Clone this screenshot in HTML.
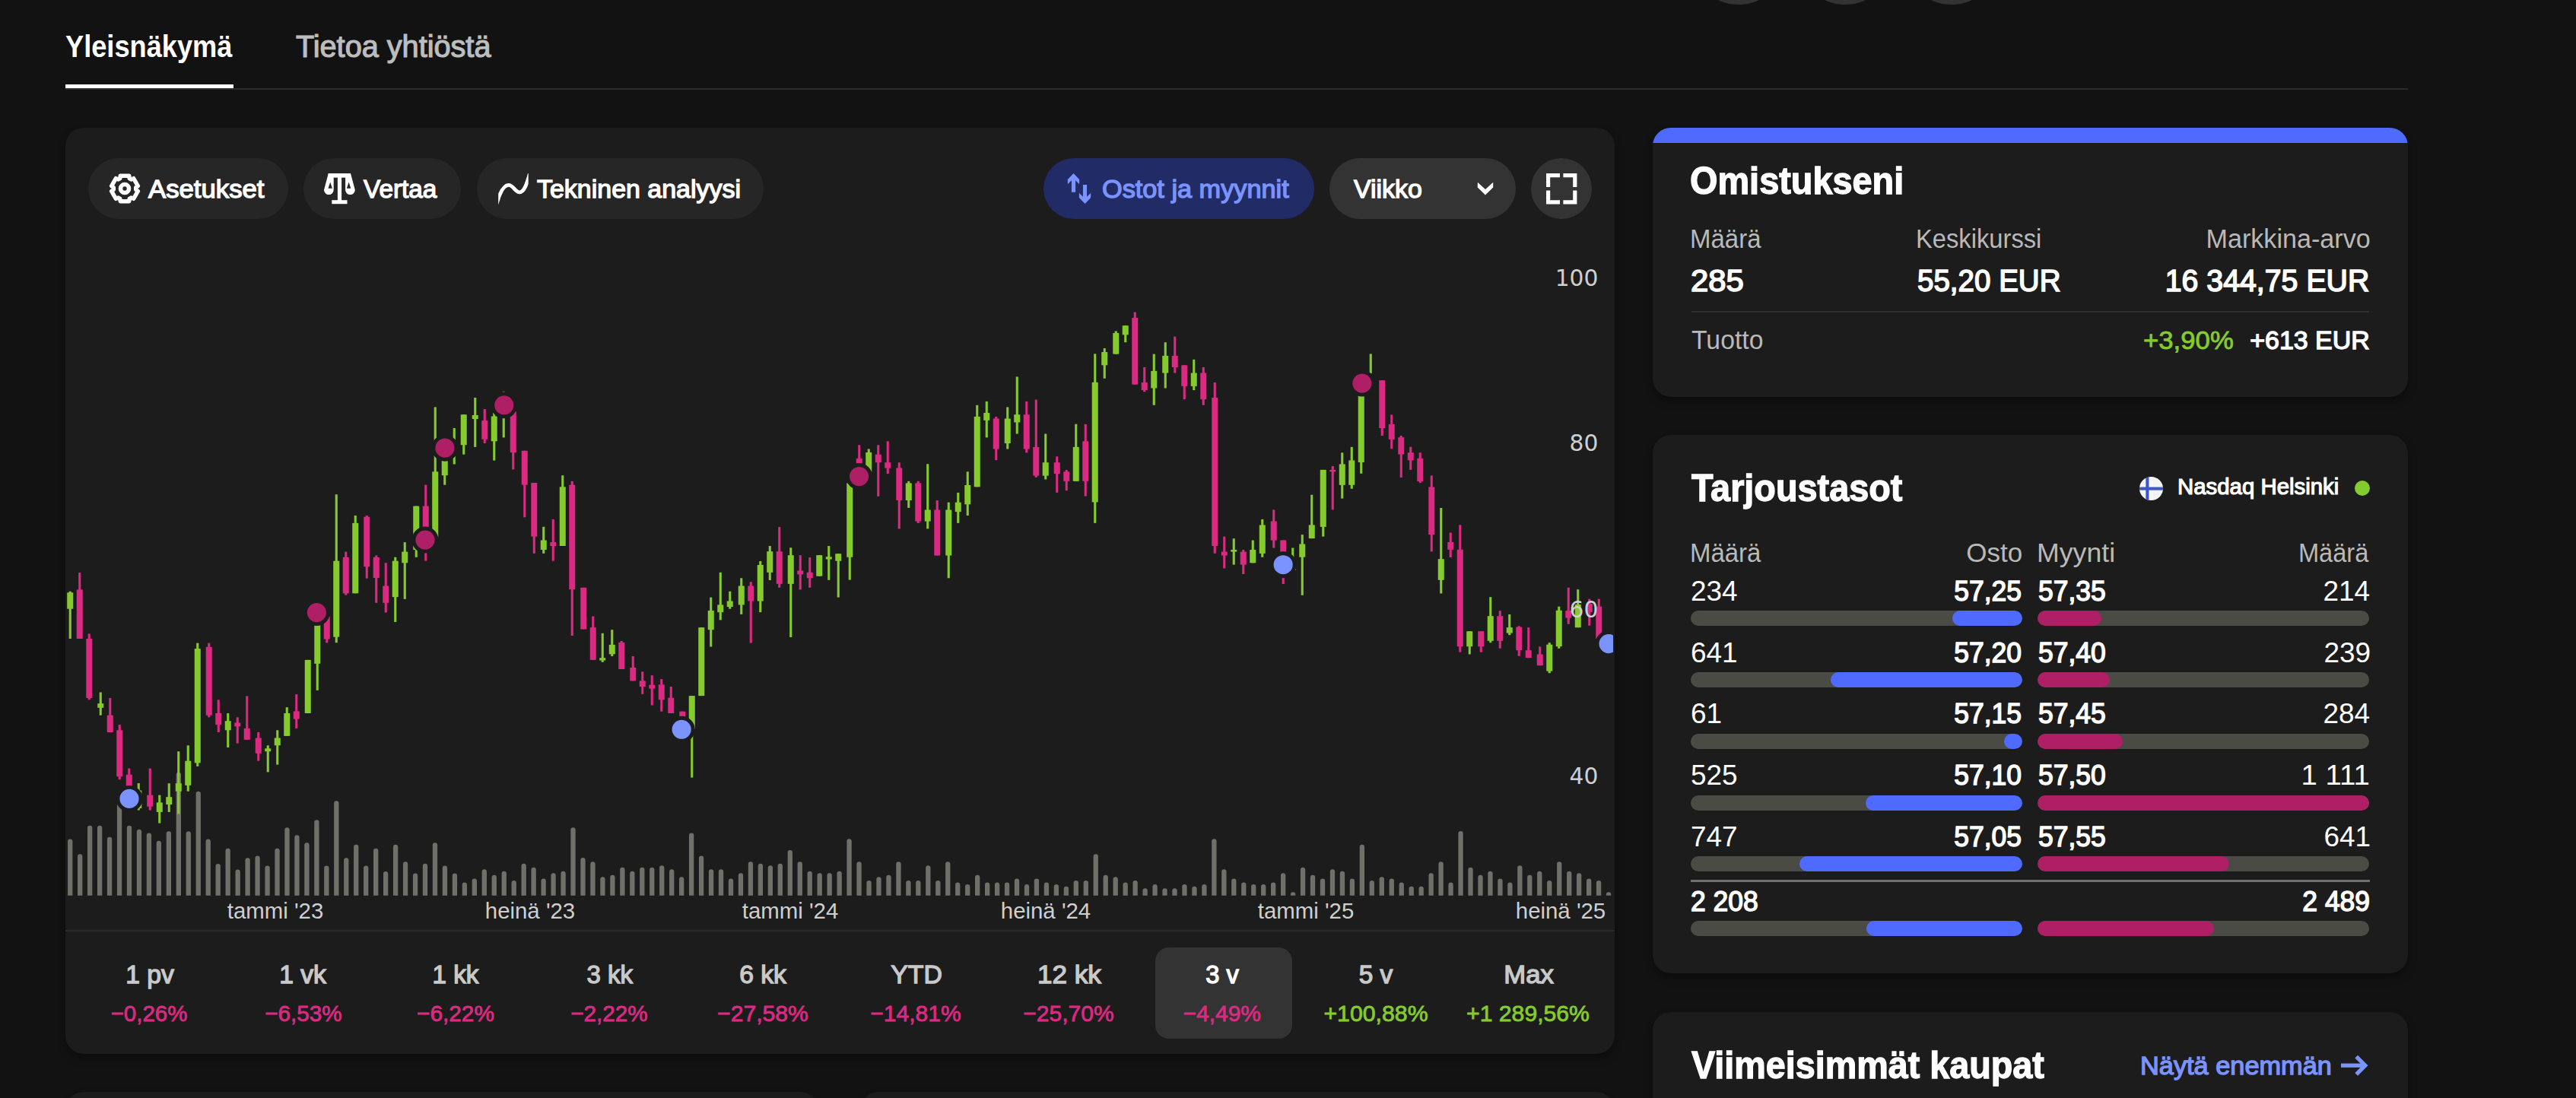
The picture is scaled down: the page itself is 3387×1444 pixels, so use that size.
<!DOCTYPE html>
<html lang="fi"><head><meta charset="utf-8"><title>Yleisnäkymä</title>
<style>
*{box-sizing:border-box;margin:0;padding:0}
html,body{width:3387px;height:1444px;overflow:hidden;background:#121212;font-family:"Liberation Sans",sans-serif}
#root{position:relative;width:3387px;height:1444px;overflow:hidden}
.t{position:absolute;white-space:nowrap;line-height:1;font-kerning:normal}
.card{position:absolute;background:#1c1c1c;border-radius:24px;box-shadow:0 6px 12px rgba(0,0,0,.32)}
.pill{position:absolute;top:208px;height:80px;border-radius:40px;background:#262626}
.abs{position:absolute}
.track{position:absolute;height:20px;border-radius:10px;background:#4b4b46;overflow:hidden}
.fill{position:absolute;top:0;height:20px;border-radius:10px}
svg{overflow:visible}
</style></head><body><div id="root">
<div class="abs" style="left:2222.3px;top:-122px;width:128px;height:128px;border-radius:50%;background:#333"></div>
<div class="abs" style="left:2361.8px;top:-122px;width:128px;height:128px;border-radius:50%;background:#333"></div>
<div class="abs" style="left:2501.5px;top:-122px;width:128px;height:128px;border-radius:50%;background:#333"></div>
<div class="abs" style="left:86px;top:116px;width:3080px;height:1.8px;background:#2c2c2c"></div>
<div class="abs" style="left:86px;top:111.2px;width:221px;height:4.8px;background:#fff"></div>
<div class="card" style="left:86px;top:168px;width:2037px;height:1217.5px"></div>
<div class="card" style="left:2173px;top:168px;width:993px;height:353.5px;overflow:hidden"><div style="height:19.5px;background:#4f6bff"></div></div>
<div class="card" style="left:2173px;top:572px;width:993px;height:708px"></div>
<div class="card" style="left:2173px;top:1331px;width:993px;height:300px"></div>
<div class="card" style="left:86px;top:1436px;width:990px;height:300px"></div>
<div class="card" style="left:1131px;top:1436px;width:992px;height:300px"></div>
<div class="pill" style="left:116px;width:263px"></div>
<div class="pill" style="left:399.3px;width:207px"></div>
<div class="pill" style="left:627px;width:376.5px"></div>
<div class="pill" style="left:1372px;width:355.7px;background:#212b66"></div>
<div class="pill" style="left:1747.8px;width:245.3px;background:#333333"></div>
<div class="pill" style="left:2013px;width:80px;background:#333333"></div>
<svg class="abs" style="left:164px;top:247.7px" width="1" height="1"><path d="M6.21 -13.32 L5.76 -16.74 L-5.76 -16.74 L-6.21 -13.32 L-8.43 -12.04 L-11.61 -13.36 L-17.37 -3.38 L-14.64 -1.28 L-14.64 1.28 L-17.37 3.38 L-11.61 13.36 L-8.43 12.04 L-6.21 13.32 L-5.76 16.74 L5.76 16.74 L6.21 13.32 L8.43 12.04 L11.61 13.36 L17.37 3.38 L14.64 1.28 L14.64 -1.28 L17.37 -3.38 L11.61 -13.36 L8.43 -12.04Z" fill="none" stroke="#fff" stroke-width="5.4" stroke-linejoin="round"/><circle r="5.5" fill="none" stroke="#fff" stroke-width="5.6"/></svg>
<svg class="abs" style="left:425.6px;top:227.8px" width="41" height="41" viewBox="0 0 41 41"><g fill="#fff">
<rect x="5.8" y="0" width="29.2" height="5.6"/><rect x="17.9" y="0" width="5.2" height="36"/><rect x="10.3" y="35.2" width="20.2" height="5"/>
<path fill-rule="evenodd" d="M5.8 0 L12.7 0 L12.7 21.7 A6.35 6.35 0 0 1 0 21.7 Z M8.2 11.6 L5.5 19.7 L10.9 19.7 Z"/>
<path fill-rule="evenodd" d="M35 0 L28.1 0 L28.1 21.7 A6.35 6.35 0 0 0 40.8 21.7 Z M32.6 11.6 L35.3 19.7 L29.9 19.7 Z"/>
</g></svg>
<svg class="abs" style="left:654px;top:228px;overflow:hidden" width="44" height="42" viewBox="0 0 44 42"><defs><clipPath id="tc"><rect x="1.2" y="-5" width="39.5" height="52"/></clipPath></defs><path clip-path="url(#tc)" fill="none" stroke="#fff" stroke-width="4.9" d="M-1 40 C3 26 8 15.4 14.7 15.4 C21 15.4 23.5 24.9 29.2 24.9 C34.5 24.9 38.5 15 42.5 0.5"/></svg>
<svg class="abs" style="left:1400px;top:226px" width="38" height="44" viewBox="0 0 38 44"><g fill="#7b93fe">
<path d="M11.5 2 L19.1 9.9 V16.25 L14.1 11.15 V26.7 H8.9 V11.15 L3.8 16.25 V9.9 Z"/>
<path d="M26.6 42 L34.2 34.1 V27.75 L29.1 32.85 V17.1 H23.9 V32.85 L18.9 27.75 V34.1 Z"/></g></svg>
<svg class="abs" style="left:1940px;top:236px" width="26" height="24" viewBox="0 0 26 24"><path d="M2.8 3.8 L13 13.05 L23.2 3.8 V10.6 L13 20.4 L2.8 10.6 Z" fill="#fff"/></svg>
<svg class="abs" style="left:2032.7px;top:227.8px" width="40.4" height="40.4" viewBox="0 0 40.4 40.4"><g fill="none" stroke="#fff" stroke-width="5.2">
<path d="M2.6 18 V2.6 H18"/><path d="M22.4 2.6 H37.8 V18"/><path d="M37.8 22.4 V37.8 H22.4"/><path d="M18 37.8 H2.6 V22.4"/></g></svg>
<svg class="chart" width="3387" height="1444" viewBox="0 0 3387 1444" style="position:absolute;left:0;top:0">
<defs><clipPath id="cc"><rect x="86" y="300" width="2035" height="900"/></clipPath></defs>
<g clip-path="url(#cc)">
<g fill="#70706a">
<path d="M89.05 1177.8 V1106.53 a3.15 3.15 0 0 1 6.3 0 V1177.8 Z"/>
<path d="M102.02 1177.8 V1126.44 a3.15 3.15 0 0 1 6.3 0 V1177.8 Z"/>
<path d="M114.98 1177.8 V1088.92 a3.15 3.15 0 0 1 6.3 0 V1177.8 Z"/>
<path d="M127.95 1177.8 V1088.92 a3.15 3.15 0 0 1 6.3 0 V1177.8 Z"/>
<path d="M140.92 1177.8 V1104.01 a3.15 3.15 0 0 1 6.3 0 V1177.8 Z"/>
<path d="M153.89 1177.8 V1059.65 a3.15 3.15 0 0 1 6.3 0 V1177.8 Z"/>
<path d="M166.85 1177.8 V1088.92 a3.15 3.15 0 0 1 6.3 0 V1177.8 Z"/>
<path d="M179.82 1177.8 V1093.95 a3.15 3.15 0 0 1 6.3 0 V1177.8 Z"/>
<path d="M192.79 1177.8 V1098.77 a3.15 3.15 0 0 1 6.3 0 V1177.8 Z"/>
<path d="M205.75 1177.8 V1108.83 a3.15 3.15 0 0 1 6.3 0 V1177.8 Z"/>
<path d="M218.72 1177.8 V1096.46 a3.15 3.15 0 0 1 6.3 0 V1177.8 Z"/>
<path d="M231.69 1177.8 V1018.65 a3.15 3.15 0 0 1 6.3 0 V1177.8 Z"/>
<path d="M244.65 1177.8 V1096.46 a3.15 3.15 0 0 1 6.3 0 V1177.8 Z"/>
<path d="M257.62 1177.8 V1043.84 a3.15 3.15 0 0 1 6.3 0 V1177.8 Z"/>
<path d="M270.59 1177.8 V1106.53 a3.15 3.15 0 0 1 6.3 0 V1177.8 Z"/>
<path d="M283.56 1177.8 V1139.02 a3.15 3.15 0 0 1 6.3 0 V1177.8 Z"/>
<path d="M296.52 1177.8 V1118.90 a3.15 3.15 0 0 1 6.3 0 V1177.8 Z"/>
<path d="M309.49 1177.8 V1146.57 a3.15 3.15 0 0 1 6.3 0 V1177.8 Z"/>
<path d="M322.46 1177.8 V1131.47 a3.15 3.15 0 0 1 6.3 0 V1177.8 Z"/>
<path d="M335.42 1177.8 V1128.75 a3.15 3.15 0 0 1 6.3 0 V1177.8 Z"/>
<path d="M348.39 1177.8 V1141.54 a3.15 3.15 0 0 1 6.3 0 V1177.8 Z"/>
<path d="M361.36 1177.8 V1118.90 a3.15 3.15 0 0 1 6.3 0 V1177.8 Z"/>
<path d="M374.32 1177.8 V1091.43 a3.15 3.15 0 0 1 6.3 0 V1177.8 Z"/>
<path d="M387.29 1177.8 V1101.50 a3.15 3.15 0 0 1 6.3 0 V1177.8 Z"/>
<path d="M400.26 1177.8 V1111.35 a3.15 3.15 0 0 1 6.3 0 V1177.8 Z"/>
<path d="M413.23 1177.8 V1081.37 a3.15 3.15 0 0 1 6.3 0 V1177.8 Z"/>
<path d="M426.19 1177.8 V1141.54 a3.15 3.15 0 0 1 6.3 0 V1177.8 Z"/>
<path d="M439.16 1177.8 V1056.42 a3.15 3.15 0 0 1 6.3 0 V1177.8 Z"/>
<path d="M452.13 1177.8 V1131.47 a3.15 3.15 0 0 1 6.3 0 V1177.8 Z"/>
<path d="M465.09 1177.8 V1113.86 a3.15 3.15 0 0 1 6.3 0 V1177.8 Z"/>
<path d="M478.06 1177.8 V1141.54 a3.15 3.15 0 0 1 6.3 0 V1177.8 Z"/>
<path d="M491.03 1177.8 V1118.90 a3.15 3.15 0 0 1 6.3 0 V1177.8 Z"/>
<path d="M503.99 1177.8 V1149.08 a3.15 3.15 0 0 1 6.3 0 V1177.8 Z"/>
<path d="M516.96 1177.8 V1113.86 a3.15 3.15 0 0 1 6.3 0 V1177.8 Z"/>
<path d="M529.93 1177.8 V1136.51 a3.15 3.15 0 0 1 6.3 0 V1177.8 Z"/>
<path d="M542.90 1177.8 V1151.60 a3.15 3.15 0 0 1 6.3 0 V1177.8 Z"/>
<path d="M555.86 1177.8 V1139.02 a3.15 3.15 0 0 1 6.3 0 V1177.8 Z"/>
<path d="M568.83 1177.8 V1111.35 a3.15 3.15 0 0 1 6.3 0 V1177.8 Z"/>
<path d="M581.80 1177.8 V1141.54 a3.15 3.15 0 0 1 6.3 0 V1177.8 Z"/>
<path d="M594.76 1177.8 V1151.60 a3.15 3.15 0 0 1 6.3 0 V1177.8 Z"/>
<path d="M607.73 1177.8 V1163.76 a3.15 3.15 0 0 1 6.3 0 V1177.8 Z"/>
<path d="M620.70 1177.8 V1158.73 a3.15 3.15 0 0 1 6.3 0 V1177.8 Z"/>
<path d="M633.66 1177.8 V1146.36 a3.15 3.15 0 0 1 6.3 0 V1177.8 Z"/>
<path d="M646.63 1177.8 V1153.91 a3.15 3.15 0 0 1 6.3 0 V1177.8 Z"/>
<path d="M659.60 1177.8 V1148.87 a3.15 3.15 0 0 1 6.3 0 V1177.8 Z"/>
<path d="M672.57 1177.8 V1161.24 a3.15 3.15 0 0 1 6.3 0 V1177.8 Z"/>
<path d="M685.53 1177.8 V1138.81 a3.15 3.15 0 0 1 6.3 0 V1177.8 Z"/>
<path d="M698.50 1177.8 V1143.84 a3.15 3.15 0 0 1 6.3 0 V1177.8 Z"/>
<path d="M711.47 1177.8 V1158.73 a3.15 3.15 0 0 1 6.3 0 V1177.8 Z"/>
<path d="M724.43 1177.8 V1151.39 a3.15 3.15 0 0 1 6.3 0 V1177.8 Z"/>
<path d="M737.40 1177.8 V1148.87 a3.15 3.15 0 0 1 6.3 0 V1177.8 Z"/>
<path d="M750.37 1177.8 V1091.43 a3.15 3.15 0 0 1 6.3 0 V1177.8 Z"/>
<path d="M763.33 1177.8 V1131.26 a3.15 3.15 0 0 1 6.3 0 V1177.8 Z"/>
<path d="M776.30 1177.8 V1136.30 a3.15 3.15 0 0 1 6.3 0 V1177.8 Z"/>
<path d="M789.27 1177.8 V1156.42 a3.15 3.15 0 0 1 6.3 0 V1177.8 Z"/>
<path d="M802.24 1177.8 V1153.91 a3.15 3.15 0 0 1 6.3 0 V1177.8 Z"/>
<path d="M815.20 1177.8 V1143.84 a3.15 3.15 0 0 1 6.3 0 V1177.8 Z"/>
<path d="M828.17 1177.8 V1148.87 a3.15 3.15 0 0 1 6.3 0 V1177.8 Z"/>
<path d="M841.14 1177.8 V1143.84 a3.15 3.15 0 0 1 6.3 0 V1177.8 Z"/>
<path d="M854.10 1177.8 V1143.84 a3.15 3.15 0 0 1 6.3 0 V1177.8 Z"/>
<path d="M867.07 1177.8 V1141.33 a3.15 3.15 0 0 1 6.3 0 V1177.8 Z"/>
<path d="M880.04 1177.8 V1146.36 a3.15 3.15 0 0 1 6.3 0 V1177.8 Z"/>
<path d="M893.00 1177.8 V1156.42 a3.15 3.15 0 0 1 6.3 0 V1177.8 Z"/>
<path d="M905.97 1177.8 V1098.77 a3.15 3.15 0 0 1 6.3 0 V1177.8 Z"/>
<path d="M918.94 1177.8 V1128.75 a3.15 3.15 0 0 1 6.3 0 V1177.8 Z"/>
<path d="M931.91 1177.8 V1146.36 a3.15 3.15 0 0 1 6.3 0 V1177.8 Z"/>
<path d="M944.87 1177.8 V1146.36 a3.15 3.15 0 0 1 6.3 0 V1177.8 Z"/>
<path d="M957.84 1177.8 V1158.73 a3.15 3.15 0 0 1 6.3 0 V1177.8 Z"/>
<path d="M970.81 1177.8 V1151.39 a3.15 3.15 0 0 1 6.3 0 V1177.8 Z"/>
<path d="M983.77 1177.8 V1136.30 a3.15 3.15 0 0 1 6.3 0 V1177.8 Z"/>
<path d="M996.74 1177.8 V1138.81 a3.15 3.15 0 0 1 6.3 0 V1177.8 Z"/>
<path d="M1009.71 1177.8 V1141.33 a3.15 3.15 0 0 1 6.3 0 V1177.8 Z"/>
<path d="M1022.67 1177.8 V1138.81 a3.15 3.15 0 0 1 6.3 0 V1177.8 Z"/>
<path d="M1035.64 1177.8 V1121.20 a3.15 3.15 0 0 1 6.3 0 V1177.8 Z"/>
<path d="M1048.61 1177.8 V1136.30 a3.15 3.15 0 0 1 6.3 0 V1177.8 Z"/>
<path d="M1061.58 1177.8 V1148.87 a3.15 3.15 0 0 1 6.3 0 V1177.8 Z"/>
<path d="M1074.54 1177.8 V1151.39 a3.15 3.15 0 0 1 6.3 0 V1177.8 Z"/>
<path d="M1087.51 1177.8 V1151.39 a3.15 3.15 0 0 1 6.3 0 V1177.8 Z"/>
<path d="M1100.48 1177.8 V1148.87 a3.15 3.15 0 0 1 6.3 0 V1177.8 Z"/>
<path d="M1113.44 1177.8 V1106.32 a3.15 3.15 0 0 1 6.3 0 V1177.8 Z"/>
<path d="M1126.41 1177.8 V1136.30 a3.15 3.15 0 0 1 6.3 0 V1177.8 Z"/>
<path d="M1139.38 1177.8 V1161.24 a3.15 3.15 0 0 1 6.3 0 V1177.8 Z"/>
<path d="M1152.34 1177.8 V1156.42 a3.15 3.15 0 0 1 6.3 0 V1177.8 Z"/>
<path d="M1165.31 1177.8 V1153.91 a3.15 3.15 0 0 1 6.3 0 V1177.8 Z"/>
<path d="M1178.28 1177.8 V1136.30 a3.15 3.15 0 0 1 6.3 0 V1177.8 Z"/>
<path d="M1191.24 1177.8 V1161.24 a3.15 3.15 0 0 1 6.3 0 V1177.8 Z"/>
<path d="M1204.21 1177.8 V1161.24 a3.15 3.15 0 0 1 6.3 0 V1177.8 Z"/>
<path d="M1217.18 1177.8 V1141.33 a3.15 3.15 0 0 1 6.3 0 V1177.8 Z"/>
<path d="M1230.15 1177.8 V1161.24 a3.15 3.15 0 0 1 6.3 0 V1177.8 Z"/>
<path d="M1243.11 1177.8 V1136.30 a3.15 3.15 0 0 1 6.3 0 V1177.8 Z"/>
<path d="M1256.08 1177.8 V1163.76 a3.15 3.15 0 0 1 6.3 0 V1177.8 Z"/>
<path d="M1269.05 1177.8 V1166.27 a3.15 3.15 0 0 1 6.3 0 V1177.8 Z"/>
<path d="M1282.01 1177.8 V1153.91 a3.15 3.15 0 0 1 6.3 0 V1177.8 Z"/>
<path d="M1294.98 1177.8 V1163.76 a3.15 3.15 0 0 1 6.3 0 V1177.8 Z"/>
<path d="M1307.95 1177.8 V1163.76 a3.15 3.15 0 0 1 6.3 0 V1177.8 Z"/>
<path d="M1320.91 1177.8 V1163.76 a3.15 3.15 0 0 1 6.3 0 V1177.8 Z"/>
<path d="M1333.88 1177.8 V1158.73 a3.15 3.15 0 0 1 6.3 0 V1177.8 Z"/>
<path d="M1346.85 1177.8 V1166.27 a3.15 3.15 0 0 1 6.3 0 V1177.8 Z"/>
<path d="M1359.82 1177.8 V1158.73 a3.15 3.15 0 0 1 6.3 0 V1177.8 Z"/>
<path d="M1372.78 1177.8 V1163.76 a3.15 3.15 0 0 1 6.3 0 V1177.8 Z"/>
<path d="M1385.75 1177.8 V1166.27 a3.15 3.15 0 0 1 6.3 0 V1177.8 Z"/>
<path d="M1398.72 1177.8 V1168.79 a3.15 3.15 0 0 1 6.3 0 V1177.8 Z"/>
<path d="M1411.68 1177.8 V1161.24 a3.15 3.15 0 0 1 6.3 0 V1177.8 Z"/>
<path d="M1424.65 1177.8 V1161.24 a3.15 3.15 0 0 1 6.3 0 V1177.8 Z"/>
<path d="M1437.62 1177.8 V1126.44 a3.15 3.15 0 0 1 6.3 0 V1177.8 Z"/>
<path d="M1450.59 1177.8 V1153.91 a3.15 3.15 0 0 1 6.3 0 V1177.8 Z"/>
<path d="M1463.55 1177.8 V1156.42 a3.15 3.15 0 0 1 6.3 0 V1177.8 Z"/>
<path d="M1476.52 1177.8 V1163.76 a3.15 3.15 0 0 1 6.3 0 V1177.8 Z"/>
<path d="M1489.49 1177.8 V1161.24 a3.15 3.15 0 0 1 6.3 0 V1177.8 Z"/>
<path d="M1502.45 1177.8 V1171.31 a3.15 3.15 0 0 1 6.3 0 V1177.8 Z"/>
<path d="M1515.42 1177.8 V1166.27 a3.15 3.15 0 0 1 6.3 0 V1177.8 Z"/>
<path d="M1528.39 1177.8 V1171.31 a3.15 3.15 0 0 1 6.3 0 V1177.8 Z"/>
<path d="M1541.35 1177.8 V1171.31 a3.15 3.15 0 0 1 6.3 0 V1177.8 Z"/>
<path d="M1554.32 1177.8 V1166.27 a3.15 3.15 0 0 1 6.3 0 V1177.8 Z"/>
<path d="M1567.29 1177.8 V1168.79 a3.15 3.15 0 0 1 6.3 0 V1177.8 Z"/>
<path d="M1580.26 1177.8 V1166.27 a3.15 3.15 0 0 1 6.3 0 V1177.8 Z"/>
<path d="M1593.22 1177.8 V1106.32 a3.15 3.15 0 0 1 6.3 0 V1177.8 Z"/>
<path d="M1606.19 1177.8 V1146.36 a3.15 3.15 0 0 1 6.3 0 V1177.8 Z"/>
<path d="M1619.16 1177.8 V1158.73 a3.15 3.15 0 0 1 6.3 0 V1177.8 Z"/>
<path d="M1632.12 1177.8 V1163.76 a3.15 3.15 0 0 1 6.3 0 V1177.8 Z"/>
<path d="M1645.09 1177.8 V1166.27 a3.15 3.15 0 0 1 6.3 0 V1177.8 Z"/>
<path d="M1658.06 1177.8 V1166.27 a3.15 3.15 0 0 1 6.3 0 V1177.8 Z"/>
<path d="M1671.02 1177.8 V1163.76 a3.15 3.15 0 0 1 6.3 0 V1177.8 Z"/>
<path d="M1683.99 1177.8 V1151.39 a3.15 3.15 0 0 1 6.3 0 V1177.8 Z"/>
<path d="M1696.96 1177.8 V1176.34 a3.15 3.15 0 0 1 6.3 0 V1177.8 Z"/>
<path d="M1709.92 1177.8 V1143.84 a3.15 3.15 0 0 1 6.3 0 V1177.8 Z"/>
<path d="M1722.89 1177.8 V1153.91 a3.15 3.15 0 0 1 6.3 0 V1177.8 Z"/>
<path d="M1735.86 1177.8 V1158.73 a3.15 3.15 0 0 1 6.3 0 V1177.8 Z"/>
<path d="M1748.83 1177.8 V1146.36 a3.15 3.15 0 0 1 6.3 0 V1177.8 Z"/>
<path d="M1761.79 1177.8 V1148.87 a3.15 3.15 0 0 1 6.3 0 V1177.8 Z"/>
<path d="M1774.76 1177.8 V1158.73 a3.15 3.15 0 0 1 6.3 0 V1177.8 Z"/>
<path d="M1787.73 1177.8 V1113.86 a3.15 3.15 0 0 1 6.3 0 V1177.8 Z"/>
<path d="M1800.69 1177.8 V1161.24 a3.15 3.15 0 0 1 6.3 0 V1177.8 Z"/>
<path d="M1813.66 1177.8 V1156.42 a3.15 3.15 0 0 1 6.3 0 V1177.8 Z"/>
<path d="M1826.63 1177.8 V1158.73 a3.15 3.15 0 0 1 6.3 0 V1177.8 Z"/>
<path d="M1839.60 1177.8 V1163.76 a3.15 3.15 0 0 1 6.3 0 V1177.8 Z"/>
<path d="M1852.56 1177.8 V1168.79 a3.15 3.15 0 0 1 6.3 0 V1177.8 Z"/>
<path d="M1865.53 1177.8 V1168.79 a3.15 3.15 0 0 1 6.3 0 V1177.8 Z"/>
<path d="M1878.50 1177.8 V1151.39 a3.15 3.15 0 0 1 6.3 0 V1177.8 Z"/>
<path d="M1891.46 1177.8 V1136.30 a3.15 3.15 0 0 1 6.3 0 V1177.8 Z"/>
<path d="M1904.43 1177.8 V1163.76 a3.15 3.15 0 0 1 6.3 0 V1177.8 Z"/>
<path d="M1917.40 1177.8 V1096.25 a3.15 3.15 0 0 1 6.3 0 V1177.8 Z"/>
<path d="M1930.36 1177.8 V1143.84 a3.15 3.15 0 0 1 6.3 0 V1177.8 Z"/>
<path d="M1943.33 1177.8 V1153.91 a3.15 3.15 0 0 1 6.3 0 V1177.8 Z"/>
<path d="M1956.30 1177.8 V1148.87 a3.15 3.15 0 0 1 6.3 0 V1177.8 Z"/>
<path d="M1969.27 1177.8 V1158.73 a3.15 3.15 0 0 1 6.3 0 V1177.8 Z"/>
<path d="M1982.23 1177.8 V1163.76 a3.15 3.15 0 0 1 6.3 0 V1177.8 Z"/>
<path d="M1995.20 1177.8 V1141.33 a3.15 3.15 0 0 1 6.3 0 V1177.8 Z"/>
<path d="M2008.17 1177.8 V1153.91 a3.15 3.15 0 0 1 6.3 0 V1177.8 Z"/>
<path d="M2021.13 1177.8 V1148.87 a3.15 3.15 0 0 1 6.3 0 V1177.8 Z"/>
<path d="M2034.10 1177.8 V1161.24 a3.15 3.15 0 0 1 6.3 0 V1177.8 Z"/>
<path d="M2047.07 1177.8 V1136.30 a3.15 3.15 0 0 1 6.3 0 V1177.8 Z"/>
<path d="M2060.03 1177.8 V1148.87 a3.15 3.15 0 0 1 6.3 0 V1177.8 Z"/>
<path d="M2073.00 1177.8 V1151.39 a3.15 3.15 0 0 1 6.3 0 V1177.8 Z"/>
<path d="M2085.97 1177.8 V1158.73 a3.15 3.15 0 0 1 6.3 0 V1177.8 Z"/>
<path d="M2098.93 1177.8 V1161.24 a3.15 3.15 0 0 1 6.3 0 V1177.8 Z"/>
<path d="M2111.90 1177.8 V1176.34 a3.15 3.15 0 0 1 6.3 0 V1177.8 Z"/>
</g>
<rect x="90.70" y="777.7" width="3.1" height="62.3" fill="#86cb2d"/>
<rect x="88.25" y="779.3" width="8" height="21.4" fill="#86cb2d"/>
<rect x="103.20" y="753.1" width="3.1" height="86.9" fill="#da2a82"/>
<rect x="100.75" y="775.4" width="8" height="64.6" fill="#da2a82"/>
<rect x="115.70" y="833.4" width="3.1" height="86.9" fill="#da2a82"/>
<rect x="113.25" y="840.0" width="8" height="78.0" fill="#da2a82"/>
<rect x="130.70" y="910.5" width="3.1" height="30.2" fill="#86cb2d"/>
<rect x="128.25" y="925.2" width="8" height="5.6" fill="#86cb2d"/>
<rect x="143.20" y="918.0" width="3.1" height="45.0" fill="#da2a82"/>
<rect x="140.75" y="940.7" width="8" height="22.3" fill="#da2a82"/>
<rect x="155.70" y="953.1" width="3.1" height="72.1" fill="#da2a82"/>
<rect x="153.25" y="960.3" width="8" height="61.0" fill="#da2a82"/>
<rect x="168.20" y="1010.5" width="3.1" height="37.5" fill="#da2a82"/>
<rect x="165.75" y="1018.7" width="8" height="29.3" fill="#da2a82"/>
<rect x="180.70" y="1030.0" width="3.1" height="35.5" fill="#86cb2d"/>
<rect x="178.25" y="1039.5" width="8" height="23.5" fill="#86cb2d"/>
<rect x="195.70" y="1010.5" width="3.1" height="55.1" fill="#da2a82"/>
<rect x="193.25" y="1045.6" width="8" height="15.1" fill="#da2a82"/>
<rect x="208.20" y="1045.6" width="3.1" height="37.0" fill="#86cb2d"/>
<rect x="205.75" y="1055.4" width="8" height="12.5" fill="#86cb2d"/>
<rect x="220.70" y="1030.2" width="3.1" height="37.7" fill="#86cb2d"/>
<rect x="218.25" y="1048.2" width="8" height="9.8" fill="#86cb2d"/>
<rect x="233.20" y="988.2" width="3.1" height="82.3" fill="#86cb2d"/>
<rect x="230.75" y="1030.2" width="8" height="10.5" fill="#86cb2d"/>
<rect x="245.70" y="980.3" width="3.1" height="60.4" fill="#86cb2d"/>
<rect x="243.25" y="1000.7" width="8" height="32.1" fill="#86cb2d"/>
<rect x="258.20" y="845.6" width="3.1" height="162.3" fill="#86cb2d"/>
<rect x="255.75" y="853.1" width="8" height="150.2" fill="#86cb2d"/>
<rect x="273.20" y="845.6" width="3.1" height="97.7" fill="#da2a82"/>
<rect x="270.75" y="850.8" width="8" height="89.9" fill="#da2a82"/>
<rect x="285.70" y="920.3" width="3.1" height="42.7" fill="#da2a82"/>
<rect x="283.25" y="938.0" width="8" height="15.1" fill="#da2a82"/>
<rect x="298.20" y="938.0" width="3.1" height="45.0" fill="#86cb2d"/>
<rect x="295.75" y="948.2" width="8" height="12.1" fill="#86cb2d"/>
<rect x="310.70" y="943.3" width="3.1" height="34.4" fill="#da2a82"/>
<rect x="308.25" y="950.5" width="8" height="4.9" fill="#da2a82"/>
<rect x="323.20" y="915.4" width="3.1" height="57.4" fill="#da2a82"/>
<rect x="320.75" y="958.0" width="8" height="14.8" fill="#da2a82"/>
<rect x="338.20" y="963.0" width="3.1" height="37.7" fill="#da2a82"/>
<rect x="335.75" y="970.5" width="8" height="20.3" fill="#da2a82"/>
<rect x="350.70" y="980.3" width="3.1" height="35.1" fill="#86cb2d"/>
<rect x="348.25" y="984.3" width="8" height="3.9" fill="#86cb2d"/>
<rect x="363.20" y="960.3" width="3.1" height="45.3" fill="#86cb2d"/>
<rect x="360.75" y="970.5" width="8" height="9.8" fill="#86cb2d"/>
<rect x="375.70" y="930.2" width="3.1" height="37.7" fill="#86cb2d"/>
<rect x="373.25" y="938.0" width="8" height="29.9" fill="#86cb2d"/>
<rect x="388.20" y="913.1" width="3.1" height="44.9" fill="#da2a82"/>
<rect x="385.75" y="935.4" width="8" height="10.2" fill="#da2a82"/>
<rect x="403.20" y="867.9" width="3.1" height="70.1" fill="#86cb2d"/>
<rect x="400.75" y="867.9" width="8" height="70.1" fill="#86cb2d"/>
<rect x="415.70" y="805.6" width="3.1" height="102.3" fill="#86cb2d"/>
<rect x="413.25" y="805.6" width="8" height="67.2" fill="#86cb2d"/>
<rect x="428.20" y="805.0" width="3.1" height="40.4" fill="#da2a82"/>
<rect x="425.75" y="811.0" width="8" height="29.5" fill="#da2a82"/>
<rect x="440.70" y="650.2" width="3.1" height="195.0" fill="#86cb2d"/>
<rect x="438.25" y="737.7" width="8" height="100.0" fill="#86cb2d"/>
<rect x="453.20" y="725.6" width="3.1" height="57.0" fill="#da2a82"/>
<rect x="450.75" y="732.8" width="8" height="47.5" fill="#da2a82"/>
<rect x="465.70" y="678.0" width="3.1" height="102.3" fill="#86cb2d"/>
<rect x="463.25" y="687.9" width="8" height="92.4" fill="#86cb2d"/>
<rect x="480.70" y="678.0" width="3.1" height="82.7" fill="#da2a82"/>
<rect x="478.25" y="679.7" width="8" height="65.5" fill="#da2a82"/>
<rect x="493.20" y="730.5" width="3.1" height="62.3" fill="#da2a82"/>
<rect x="490.75" y="732.8" width="8" height="27.2" fill="#da2a82"/>
<rect x="505.70" y="740.3" width="3.1" height="65.3" fill="#da2a82"/>
<rect x="503.25" y="770.5" width="8" height="22.3" fill="#da2a82"/>
<rect x="518.20" y="732.8" width="3.1" height="85.2" fill="#86cb2d"/>
<rect x="515.75" y="737.7" width="8" height="47.5" fill="#86cb2d"/>
<rect x="530.70" y="713.1" width="3.1" height="74.8" fill="#86cb2d"/>
<rect x="528.25" y="725.6" width="8" height="14.7" fill="#86cb2d"/>
<rect x="545.70" y="665.6" width="3.1" height="67.2" fill="#86cb2d"/>
<rect x="543.25" y="665.6" width="8" height="57.4" fill="#86cb2d"/>
<rect x="558.20" y="637.7" width="3.1" height="100.0" fill="#da2a82"/>
<rect x="555.75" y="665.6" width="8" height="44.2" fill="#da2a82"/>
<rect x="570.70" y="535.4" width="3.1" height="171.2" fill="#86cb2d"/>
<rect x="568.25" y="620.3" width="8" height="86.3" fill="#86cb2d"/>
<rect x="583.20" y="580.0" width="3.1" height="57.7" fill="#86cb2d"/>
<rect x="580.75" y="588.5" width="8" height="36.7" fill="#86cb2d"/>
<rect x="595.70" y="563.0" width="3.1" height="47.5" fill="#86cb2d"/>
<rect x="608.20" y="545.2" width="3.1" height="52.5" fill="#86cb2d"/>
<rect x="605.75" y="545.2" width="8" height="40.0" fill="#86cb2d"/>
<rect x="623.20" y="523.0" width="3.1" height="64.9" fill="#86cb2d"/>
<rect x="620.75" y="546.0" width="8" height="5.0" fill="#86cb2d"/>
<rect x="635.70" y="538.0" width="3.1" height="45.0" fill="#da2a82"/>
<rect x="633.25" y="553.1" width="8" height="24.6" fill="#da2a82"/>
<rect x="648.20" y="542.6" width="3.1" height="63.0" fill="#86cb2d"/>
<rect x="645.75" y="547.5" width="8" height="32.8" fill="#86cb2d"/>
<rect x="660.70" y="514.8" width="3.1" height="60.6" fill="#86cb2d"/>
<rect x="658.25" y="528.0" width="8" height="8.0" fill="#86cb2d"/>
<rect x="673.20" y="541.0" width="3.1" height="76.4" fill="#da2a82"/>
<rect x="670.75" y="541.0" width="8" height="54.0" fill="#da2a82"/>
<rect x="688.20" y="592.8" width="3.1" height="87.5" fill="#da2a82"/>
<rect x="685.75" y="592.8" width="8" height="44.9" fill="#da2a82"/>
<rect x="700.70" y="635.0" width="3.1" height="92.9" fill="#da2a82"/>
<rect x="698.25" y="635.0" width="8" height="70.6" fill="#da2a82"/>
<rect x="713.20" y="692.8" width="3.1" height="35.1" fill="#86cb2d"/>
<rect x="710.75" y="710.5" width="8" height="12.5" fill="#86cb2d"/>
<rect x="725.70" y="683.0" width="3.1" height="54.7" fill="#da2a82"/>
<rect x="723.25" y="713.1" width="8" height="4.9" fill="#da2a82"/>
<rect x="738.20" y="625.2" width="3.1" height="92.8" fill="#86cb2d"/>
<rect x="735.75" y="640.3" width="8" height="77.7" fill="#86cb2d"/>
<rect x="750.70" y="632.8" width="3.1" height="203.2" fill="#da2a82"/>
<rect x="748.25" y="637.7" width="8" height="137.5" fill="#da2a82"/>
<rect x="765.70" y="772.8" width="3.1" height="54.7" fill="#da2a82"/>
<rect x="763.25" y="772.8" width="8" height="54.7" fill="#da2a82"/>
<rect x="778.20" y="810.5" width="3.1" height="57.4" fill="#da2a82"/>
<rect x="775.75" y="825.2" width="8" height="42.7" fill="#da2a82"/>
<rect x="790.70" y="832.8" width="3.1" height="38.0" fill="#86cb2d"/>
<rect x="788.25" y="865.2" width="8" height="3.3" fill="#86cb2d"/>
<rect x="803.20" y="828.2" width="3.1" height="34.8" fill="#86cb2d"/>
<rect x="800.75" y="847.9" width="8" height="12.4" fill="#86cb2d"/>
<rect x="815.70" y="843.0" width="3.1" height="37.0" fill="#da2a82"/>
<rect x="813.25" y="844.9" width="8" height="35.1" fill="#da2a82"/>
<rect x="830.70" y="863.0" width="3.1" height="32.4" fill="#da2a82"/>
<rect x="828.25" y="878.0" width="8" height="17.4" fill="#da2a82"/>
<rect x="843.20" y="883.3" width="3.1" height="29.5" fill="#da2a82"/>
<rect x="840.75" y="895.4" width="8" height="7.6" fill="#da2a82"/>
<rect x="855.70" y="888.2" width="3.1" height="39.3" fill="#da2a82"/>
<rect x="853.25" y="900.7" width="8" height="4.9" fill="#da2a82"/>
<rect x="868.20" y="893.1" width="3.1" height="42.6" fill="#da2a82"/>
<rect x="865.75" y="900.3" width="8" height="20.0" fill="#da2a82"/>
<rect x="880.70" y="903.0" width="3.1" height="35.0" fill="#da2a82"/>
<rect x="878.25" y="917.7" width="8" height="20.3" fill="#da2a82"/>
<rect x="895.70" y="935.7" width="3.1" height="23.6" fill="#da2a82"/>
<rect x="893.25" y="935.7" width="8" height="23.6" fill="#da2a82"/>
<rect x="908.20" y="915.1" width="3.1" height="107.5" fill="#86cb2d"/>
<rect x="905.75" y="915.1" width="8" height="43.6" fill="#86cb2d"/>
<rect x="920.70" y="825.2" width="3.1" height="89.9" fill="#86cb2d"/>
<rect x="918.25" y="825.2" width="8" height="89.9" fill="#86cb2d"/>
<rect x="933.20" y="785.6" width="3.1" height="64.9" fill="#86cb2d"/>
<rect x="930.75" y="803.0" width="8" height="25.2" fill="#86cb2d"/>
<rect x="945.70" y="752.8" width="3.1" height="62.6" fill="#86cb2d"/>
<rect x="943.25" y="795.4" width="8" height="9.8" fill="#86cb2d"/>
<rect x="958.20" y="777.7" width="3.1" height="23.0" fill="#86cb2d"/>
<rect x="955.75" y="790.5" width="8" height="7.5" fill="#86cb2d"/>
<rect x="973.20" y="760.3" width="3.1" height="47.6" fill="#86cb2d"/>
<rect x="970.75" y="770.5" width="8" height="24.9" fill="#86cb2d"/>
<rect x="985.70" y="765.2" width="3.1" height="80.4" fill="#da2a82"/>
<rect x="983.25" y="770.5" width="8" height="20.0" fill="#da2a82"/>
<rect x="998.20" y="738.0" width="3.1" height="67.2" fill="#86cb2d"/>
<rect x="995.75" y="743.0" width="8" height="47.5" fill="#86cb2d"/>
<rect x="1010.70" y="718.0" width="3.1" height="45.0" fill="#86cb2d"/>
<rect x="1008.25" y="725.2" width="8" height="27.6" fill="#86cb2d"/>
<rect x="1023.20" y="693.1" width="3.1" height="79.7" fill="#da2a82"/>
<rect x="1020.75" y="725.2" width="8" height="42.7" fill="#da2a82"/>
<rect x="1038.20" y="720.3" width="3.1" height="117.7" fill="#86cb2d"/>
<rect x="1035.75" y="730.2" width="8" height="37.7" fill="#86cb2d"/>
<rect x="1050.70" y="730.2" width="3.1" height="45.2" fill="#da2a82"/>
<rect x="1048.25" y="750.5" width="8" height="4.9" fill="#da2a82"/>
<rect x="1063.20" y="733.1" width="3.1" height="39.7" fill="#da2a82"/>
<rect x="1060.75" y="752.8" width="8" height="7.5" fill="#da2a82"/>
<rect x="1075.70" y="730.2" width="3.1" height="27.5" fill="#86cb2d"/>
<rect x="1073.25" y="730.2" width="8" height="27.5" fill="#86cb2d"/>
<rect x="1088.20" y="718.0" width="3.1" height="44.8" fill="#86cb2d"/>
<rect x="1085.75" y="732.3" width="8" height="3.2" fill="#86cb2d"/>
<rect x="1100.70" y="728.2" width="3.1" height="57.4" fill="#86cb2d"/>
<rect x="1098.25" y="728.2" width="8" height="9.5" fill="#86cb2d"/>
<rect x="1115.70" y="626.0" width="3.1" height="136.6" fill="#86cb2d"/>
<rect x="1113.25" y="635.4" width="8" height="97.4" fill="#86cb2d"/>
<rect x="1128.20" y="585.2" width="3.1" height="41.4" fill="#da2a82"/>
<rect x="1125.75" y="603.0" width="8" height="23.6" fill="#da2a82"/>
<rect x="1140.70" y="590.5" width="3.1" height="34.5" fill="#86cb2d"/>
<rect x="1138.25" y="595.0" width="8" height="25.7" fill="#86cb2d"/>
<rect x="1153.20" y="585.2" width="3.1" height="67.6" fill="#da2a82"/>
<rect x="1150.75" y="597.7" width="8" height="10.5" fill="#da2a82"/>
<rect x="1165.70" y="580.3" width="3.1" height="42.7" fill="#da2a82"/>
<rect x="1163.25" y="608.2" width="8" height="7.5" fill="#da2a82"/>
<rect x="1180.70" y="608.2" width="3.1" height="87.2" fill="#da2a82"/>
<rect x="1178.25" y="615.4" width="8" height="42.6" fill="#da2a82"/>
<rect x="1193.20" y="632.8" width="3.1" height="35.1" fill="#86cb2d"/>
<rect x="1190.75" y="635.4" width="8" height="22.6" fill="#86cb2d"/>
<rect x="1205.70" y="632.8" width="3.1" height="55.1" fill="#da2a82"/>
<rect x="1203.25" y="635.4" width="8" height="50.2" fill="#da2a82"/>
<rect x="1218.20" y="610.2" width="3.1" height="85.2" fill="#86cb2d"/>
<rect x="1215.75" y="670.5" width="8" height="15.1" fill="#86cb2d"/>
<rect x="1230.70" y="658.0" width="3.1" height="72.5" fill="#da2a82"/>
<rect x="1228.25" y="670.5" width="8" height="60.0" fill="#da2a82"/>
<rect x="1245.70" y="660.7" width="3.1" height="99.6" fill="#86cb2d"/>
<rect x="1243.25" y="670.5" width="8" height="60.0" fill="#86cb2d"/>
<rect x="1258.20" y="647.9" width="3.1" height="40.0" fill="#86cb2d"/>
<rect x="1255.75" y="660.7" width="8" height="12.4" fill="#86cb2d"/>
<rect x="1270.70" y="620.3" width="3.1" height="57.7" fill="#86cb2d"/>
<rect x="1268.25" y="638.0" width="8" height="25.3" fill="#86cb2d"/>
<rect x="1283.20" y="532.8" width="3.1" height="107.5" fill="#86cb2d"/>
<rect x="1280.75" y="547.9" width="8" height="92.4" fill="#86cb2d"/>
<rect x="1295.70" y="527.9" width="3.1" height="47.5" fill="#86cb2d"/>
<rect x="1293.25" y="543.0" width="8" height="9.8" fill="#86cb2d"/>
<rect x="1308.20" y="547.9" width="3.1" height="57.3" fill="#da2a82"/>
<rect x="1305.75" y="550.5" width="8" height="40.0" fill="#da2a82"/>
<rect x="1323.20" y="535.4" width="3.1" height="55.1" fill="#86cb2d"/>
<rect x="1320.75" y="550.5" width="8" height="32.5" fill="#86cb2d"/>
<rect x="1335.70" y="495.4" width="3.1" height="75.1" fill="#86cb2d"/>
<rect x="1333.25" y="545.2" width="8" height="10.2" fill="#86cb2d"/>
<rect x="1348.20" y="527.9" width="3.1" height="67.5" fill="#da2a82"/>
<rect x="1345.75" y="545.2" width="8" height="45.3" fill="#da2a82"/>
<rect x="1360.70" y="525.6" width="3.1" height="102.3" fill="#da2a82"/>
<rect x="1358.25" y="587.9" width="8" height="37.7" fill="#da2a82"/>
<rect x="1373.20" y="570.5" width="3.1" height="60.0" fill="#86cb2d"/>
<rect x="1370.75" y="608.2" width="8" height="17.4" fill="#86cb2d"/>
<rect x="1388.20" y="600.3" width="3.1" height="47.6" fill="#da2a82"/>
<rect x="1385.75" y="608.2" width="8" height="14.8" fill="#da2a82"/>
<rect x="1400.70" y="618.0" width="3.1" height="27.2" fill="#da2a82"/>
<rect x="1398.25" y="620.3" width="8" height="12.5" fill="#da2a82"/>
<rect x="1413.20" y="557.7" width="3.1" height="75.1" fill="#86cb2d"/>
<rect x="1410.75" y="587.9" width="8" height="44.9" fill="#86cb2d"/>
<rect x="1425.70" y="557.9" width="3.1" height="94.7" fill="#da2a82"/>
<rect x="1423.25" y="580.3" width="8" height="52.5" fill="#da2a82"/>
<rect x="1438.20" y="465.3" width="3.1" height="222.6" fill="#86cb2d"/>
<rect x="1435.75" y="502.8" width="8" height="157.6" fill="#86cb2d"/>
<rect x="1450.70" y="458.0" width="3.1" height="39.7" fill="#86cb2d"/>
<rect x="1448.25" y="463.0" width="8" height="17.3" fill="#86cb2d"/>
<rect x="1465.70" y="435.4" width="3.1" height="30.2" fill="#86cb2d"/>
<rect x="1463.25" y="438.0" width="8" height="27.6" fill="#86cb2d"/>
<rect x="1478.20" y="428.2" width="3.1" height="22.0" fill="#86cb2d"/>
<rect x="1475.75" y="428.2" width="8" height="12.1" fill="#86cb2d"/>
<rect x="1490.70" y="410.5" width="3.1" height="95.1" fill="#da2a82"/>
<rect x="1488.25" y="418.0" width="8" height="87.6" fill="#da2a82"/>
<rect x="1503.20" y="483.0" width="3.1" height="32.4" fill="#da2a82"/>
<rect x="1500.75" y="503.0" width="8" height="10.1" fill="#da2a82"/>
<rect x="1515.70" y="465.6" width="3.1" height="67.2" fill="#86cb2d"/>
<rect x="1513.25" y="487.9" width="8" height="22.6" fill="#86cb2d"/>
<rect x="1530.70" y="450.2" width="3.1" height="60.3" fill="#86cb2d"/>
<rect x="1528.25" y="467.9" width="8" height="22.6" fill="#86cb2d"/>
<rect x="1543.20" y="442.6" width="3.1" height="47.9" fill="#da2a82"/>
<rect x="1540.75" y="467.9" width="8" height="15.1" fill="#da2a82"/>
<rect x="1555.70" y="480.3" width="3.1" height="44.9" fill="#da2a82"/>
<rect x="1553.25" y="480.3" width="8" height="27.6" fill="#da2a82"/>
<rect x="1568.20" y="472.8" width="3.1" height="40.3" fill="#86cb2d"/>
<rect x="1565.75" y="490.5" width="8" height="17.4" fill="#86cb2d"/>
<rect x="1580.70" y="483.0" width="3.1" height="49.8" fill="#da2a82"/>
<rect x="1578.25" y="490.5" width="8" height="34.7" fill="#da2a82"/>
<rect x="1595.70" y="503.0" width="3.1" height="224.9" fill="#da2a82"/>
<rect x="1593.25" y="523.0" width="8" height="195.0" fill="#da2a82"/>
<rect x="1608.20" y="705.6" width="3.1" height="41.9" fill="#da2a82"/>
<rect x="1605.75" y="725.6" width="8" height="4.9" fill="#da2a82"/>
<rect x="1620.70" y="708.2" width="3.1" height="34.4" fill="#86cb2d"/>
<rect x="1618.25" y="723.0" width="8" height="2.6" fill="#86cb2d"/>
<rect x="1633.20" y="723.0" width="3.1" height="32.0" fill="#da2a82"/>
<rect x="1630.75" y="725.6" width="8" height="17.0" fill="#da2a82"/>
<rect x="1645.70" y="710.5" width="3.1" height="29.8" fill="#86cb2d"/>
<rect x="1643.25" y="723.0" width="8" height="17.3" fill="#86cb2d"/>
<rect x="1658.20" y="683.0" width="3.1" height="49.8" fill="#86cb2d"/>
<rect x="1655.75" y="690.5" width="8" height="37.4" fill="#86cb2d"/>
<rect x="1673.20" y="670.4" width="3.1" height="50.2" fill="#da2a82"/>
<rect x="1670.75" y="685.5" width="8" height="25.1" fill="#da2a82"/>
<rect x="1685.70" y="710.5" width="3.1" height="57.5" fill="#da2a82"/>
<rect x="1683.25" y="710.5" width="8" height="32.2" fill="#da2a82"/>
<rect x="1698.20" y="720.5" width="3.1" height="31.5" fill="#86cb2d"/>
<rect x="1695.75" y="738.0" width="8" height="12.0" fill="#86cb2d"/>
<rect x="1710.70" y="703.1" width="3.1" height="79.7" fill="#86cb2d"/>
<rect x="1708.25" y="715.5" width="8" height="17.2" fill="#86cb2d"/>
<rect x="1723.20" y="650.7" width="3.1" height="57.4" fill="#86cb2d"/>
<rect x="1720.75" y="690.4" width="8" height="17.7" fill="#86cb2d"/>
<rect x="1738.20" y="617.9" width="3.1" height="87.7" fill="#86cb2d"/>
<rect x="1735.75" y="617.9" width="8" height="75.0" fill="#86cb2d"/>
<rect x="1750.70" y="613.0" width="3.1" height="57.4" fill="#da2a82"/>
<rect x="1748.25" y="617.9" width="8" height="2.5" fill="#da2a82"/>
<rect x="1763.20" y="595.3" width="3.1" height="60.3" fill="#86cb2d"/>
<rect x="1760.75" y="610.4" width="8" height="27.4" fill="#86cb2d"/>
<rect x="1775.70" y="587.8" width="3.1" height="54.9" fill="#86cb2d"/>
<rect x="1773.25" y="605.5" width="8" height="32.3" fill="#86cb2d"/>
<rect x="1788.20" y="500.0" width="3.1" height="122.8" fill="#86cb2d"/>
<rect x="1785.75" y="504.1" width="8" height="103.9" fill="#86cb2d"/>
<rect x="1800.70" y="465.4" width="3.1" height="25.6" fill="#86cb2d"/>
<rect x="1815.70" y="500.2" width="3.1" height="72.8" fill="#da2a82"/>
<rect x="1813.25" y="500.2" width="8" height="62.9" fill="#da2a82"/>
<rect x="1828.20" y="545.4" width="3.1" height="44.9" fill="#da2a82"/>
<rect x="1825.75" y="557.9" width="8" height="20.0" fill="#da2a82"/>
<rect x="1840.70" y="573.0" width="3.1" height="55.0" fill="#da2a82"/>
<rect x="1838.25" y="575.2" width="8" height="22.3" fill="#da2a82"/>
<rect x="1853.20" y="587.7" width="3.1" height="30.2" fill="#da2a82"/>
<rect x="1850.75" y="595.2" width="8" height="10.2" fill="#da2a82"/>
<rect x="1865.70" y="595.2" width="3.1" height="40.0" fill="#da2a82"/>
<rect x="1863.25" y="602.8" width="8" height="30.2" fill="#da2a82"/>
<rect x="1880.70" y="625.4" width="3.1" height="100.0" fill="#da2a82"/>
<rect x="1878.25" y="640.5" width="8" height="62.6" fill="#da2a82"/>
<rect x="1893.20" y="668.0" width="3.1" height="112.5" fill="#86cb2d"/>
<rect x="1890.75" y="735.2" width="8" height="27.6" fill="#86cb2d"/>
<rect x="1905.70" y="700.5" width="3.1" height="32.5" fill="#da2a82"/>
<rect x="1903.25" y="713.0" width="8" height="9.8" fill="#da2a82"/>
<rect x="1918.20" y="690.3" width="3.1" height="167.4" fill="#da2a82"/>
<rect x="1915.75" y="722.8" width="8" height="127.4" fill="#da2a82"/>
<rect x="1930.70" y="830.2" width="3.1" height="30.3" fill="#86cb2d"/>
<rect x="1928.25" y="830.2" width="8" height="20.0" fill="#86cb2d"/>
<rect x="1945.70" y="830.2" width="3.1" height="27.5" fill="#da2a82"/>
<rect x="1943.25" y="830.2" width="8" height="20.0" fill="#da2a82"/>
<rect x="1958.20" y="785.2" width="3.1" height="60.0" fill="#86cb2d"/>
<rect x="1955.75" y="810.2" width="8" height="32.6" fill="#86cb2d"/>
<rect x="1970.70" y="803.1" width="3.1" height="49.7" fill="#da2a82"/>
<rect x="1968.25" y="810.2" width="8" height="32.6" fill="#da2a82"/>
<rect x="1983.20" y="808.0" width="3.1" height="27.2" fill="#86cb2d"/>
<rect x="1980.75" y="825.2" width="8" height="7.4" fill="#86cb2d"/>
<rect x="1995.70" y="823.3" width="3.1" height="39.5" fill="#da2a82"/>
<rect x="1993.25" y="824.6" width="8" height="30.6" fill="#da2a82"/>
<rect x="2008.20" y="825.2" width="3.1" height="40.0" fill="#da2a82"/>
<rect x="2005.75" y="855.2" width="8" height="10.0" fill="#da2a82"/>
<rect x="2023.20" y="850.3" width="3.1" height="24.9" fill="#da2a82"/>
<rect x="2020.75" y="860.5" width="8" height="14.7" fill="#da2a82"/>
<rect x="2035.70" y="845.2" width="3.1" height="40.0" fill="#86cb2d"/>
<rect x="2033.25" y="847.7" width="8" height="34.9" fill="#86cb2d"/>
<rect x="2048.20" y="797.7" width="3.1" height="55.1" fill="#86cb2d"/>
<rect x="2045.75" y="802.8" width="8" height="47.4" fill="#86cb2d"/>
<rect x="2060.70" y="772.8" width="3.1" height="47.9" fill="#da2a82"/>
<rect x="2058.25" y="803.1" width="8" height="9.5" fill="#da2a82"/>
<rect x="2073.20" y="775.2" width="3.1" height="50.0" fill="#86cb2d"/>
<rect x="2070.75" y="795.0" width="8" height="30.2" fill="#86cb2d"/>
<rect x="2088.20" y="787.7" width="3.1" height="35.1" fill="#da2a82"/>
<rect x="2085.75" y="794.0" width="8" height="10.8" fill="#da2a82"/>
<rect x="2100.70" y="787.7" width="3.1" height="52.3" fill="#da2a82"/>
<rect x="2098.25" y="797.7" width="8" height="42.3" fill="#da2a82"/>
<rect x="2113.20" y="838.0" width="3.1" height="10.0" fill="#da2a82"/>
<rect x="2110.75" y="838.0" width="8" height="10.0" fill="#da2a82"/>
<circle cx="170.0" cy="1050.4" r="15.03" fill="#7b93fe" stroke="#1c1c1c" stroke-width="4.93"/>
<circle cx="416.38" cy="805.6" r="15.03" fill="#ae1f66" stroke="#1c1c1c" stroke-width="4.93"/>
<circle cx="559.01" cy="710.1" r="15.03" fill="#ae1f66" stroke="#1c1c1c" stroke-width="4.93"/>
<circle cx="584.95" cy="589.15" r="15.03" fill="#ae1f66" stroke="#1c1c1c" stroke-width="4.93"/>
<circle cx="662.75" cy="532.8" r="15.03" fill="#ae1f66" stroke="#1c1c1c" stroke-width="4.93"/>
<circle cx="896.15" cy="959.3" r="15.03" fill="#7b93fe" stroke="#1c1c1c" stroke-width="4.93"/>
<circle cx="1129.56" cy="626.6" r="15.03" fill="#ae1f66" stroke="#1c1c1c" stroke-width="4.93"/>
<circle cx="1687.14" cy="742.7" r="15.03" fill="#7b93fe" stroke="#1c1c1c" stroke-width="4.93"/>
<circle cx="1790.88" cy="504.1" r="15.03" fill="#ae1f66" stroke="#1c1c1c" stroke-width="4.93"/>
<circle cx="2115.05" cy="846.6" r="15.03" fill="#7b93fe" stroke="#1c1c1c" stroke-width="4.93"/>
</g></svg>
<div class="abs" style="left:86px;top:1223px;width:2037px;height:2px;background:#2a2a2a"></div>
<div class="abs" style="left:1518.7px;top:1246px;width:180.8px;height:120px;border-radius:18px;background:#333333"></div>
<div class="abs" style="left:2224px;top:408.6px;width:891px;height:2px;background:#303030"></div>
<svg class="abs" style="left:2812.9px;top:626.7px" width="31" height="31" viewBox="0 0 30.4 30.4"><defs><clipPath id="fc"><circle cx="15.2" cy="15.2" r="15.2"/></clipPath></defs><g clip-path="url(#fc)"><rect width="31" height="31" fill="#f4f4f4"/><rect x="8.2" y="0" width="4" height="31" fill="#3f55cc"/><rect x="0" y="13.3" width="31" height="4" fill="#3f55cc"/></g></svg>
<div class="abs" style="left:3096px;top:631.9px;width:20px;height:20px;border-radius:50%;background:#86cb2d"></div>
<div class="track" style="left:2223px;top:803.1px;width:436px"><div class="fill" style="right:0;width:92.4px;background:#4f6bff"></div></div>
<div class="track" style="left:2678.7px;top:803.1px;width:436.8px"><div class="fill" style="left:0;width:84.2px;background:#ae1f66"></div></div>
<div class="track" style="left:2223px;top:883.9px;width:436px"><div class="fill" style="right:0;width:251.9px;background:#4f6bff"></div></div>
<div class="track" style="left:2678.7px;top:883.9px;width:436.8px"><div class="fill" style="left:0;width:94.9px;background:#ae1f66"></div></div>
<div class="track" style="left:2223px;top:964.7px;width:436px"><div class="fill" style="right:0;width:23.8px;background:#4f6bff"></div></div>
<div class="track" style="left:2678.7px;top:964.7px;width:436.8px"><div class="fill" style="left:0;width:112.2px;background:#ae1f66"></div></div>
<div class="track" style="left:2223px;top:1045.5px;width:436px"><div class="fill" style="right:0;width:205.7px;background:#4f6bff"></div></div>
<div class="track" style="left:2678.7px;top:1045.5px;width:436.8px"><div class="fill" style="left:0;width:436.5px;background:#ae1f66"></div></div>
<div class="track" style="left:2223px;top:1126.3px;width:436px"><div class="fill" style="right:0;width:292.9px;background:#4f6bff"></div></div>
<div class="track" style="left:2678.7px;top:1126.3px;width:436.8px"><div class="fill" style="left:0;width:252.1px;background:#ae1f66"></div></div>
<div class="abs" style="left:2223px;top:1157.4px;width:892.5px;height:2.6px;background:#70706a"></div>
<div class="track" style="left:2223px;top:1210.9px;width:436px"><div class="fill" style="right:0;width:205.0px;background:#4f6bff"></div></div>
<div class="track" style="left:2678.7px;top:1210.9px;width:436.8px"><div class="fill" style="left:0;width:232.3px;background:#ae1f66"></div></div>
<svg class="abs" style="left:3076px;top:1386px" width="40" height="30" viewBox="0 0 40 30"><g fill="none" stroke="#7b93fe" stroke-width="5.3"><path d="M2 15.2 H33"/><path d="M22.2 3.6 L33.8 15.2 L22.2 26.8"/></g></svg>
<span class="t" id="t0" style="top:40.72px;font-size:40.5px;color:#fff;font-weight:700;left:86.30px;transform-origin:0 50%;transform:scaleX(0.8943);">Yleisnäkymä</span>
<span class="t" id="t1" style="top:40.72px;font-size:40.5px;color:#bdbdbd;-webkit-text-stroke:1.2px currentColor;left:388.80px;transform-origin:0 50%;transform:scaleX(0.9792);">Tietoa yhtiöstä</span>
<span class="t" id="t2" style="top:231.42px;font-size:34px;color:#fff;-webkit-text-stroke:1.36px currentColor;paint-order:stroke fill;left:194.80px;transform-origin:0 50%;transform:scaleX(1.0211);">Asetukset</span>
<span class="t" id="t3" style="top:231.42px;font-size:34px;color:#fff;-webkit-text-stroke:1.36px currentColor;paint-order:stroke fill;left:478.30px;transform-origin:0 50%;transform:scaleX(0.9802);">Vertaa</span>
<span class="t" id="t4" style="top:231.42px;font-size:34px;color:#fff;-webkit-text-stroke:1.36px currentColor;paint-order:stroke fill;left:706.20px;transform-origin:0 50%;transform:scaleX(0.9985);">Tekninen analyysi</span>
<span class="t" id="t5" style="top:231.42px;font-size:34px;color:#7b93fe;-webkit-text-stroke:1.36px currentColor;paint-order:stroke fill;left:1448.90px;transform-origin:0 50%;transform:scaleX(1.0078);">Ostot ja myynnit</span>
<span class="t" id="t6" style="top:231.42px;font-size:34px;color:#fff;-webkit-text-stroke:1.36px currentColor;paint-order:stroke fill;left:1780.00px;transform-origin:0 50%;transform:scaleX(0.9967);">Viikko</span>
<span class="t" id="t7" style="top:212.68px;font-size:50px;color:#fff;font-weight:700;-webkit-text-stroke:1.3px currentColor;left:2222.20px;transform-origin:0 50%;transform:scaleX(0.9372);">Omistukseni</span>
<span class="t" id="t8" style="top:296.73px;font-size:34.7px;color:#b9b9b9;left:2222.40px;transform-origin:0 50%;transform:scaleX(0.9506);">Määrä</span>
<span class="t" id="t9" style="top:296.73px;font-size:34.7px;color:#b9b9b9;left:2519.40px;transform-origin:0 50%;transform:scaleX(0.9427);">Keskikurssi</span>
<span class="t" id="t10" style="top:296.73px;font-size:34.7px;color:#b9b9b9;right:270.70px;transform-origin:100% 50%;transform:scaleX(0.9843);">Markkina-arvo</span>
<span class="t" id="t11" style="top:348.69px;font-size:41px;color:#fff;-webkit-text-stroke:1.64px currentColor;paint-order:stroke fill;left:2223.00px;transform-origin:0 50%;transform:scaleX(1.0194);">285</span>
<span class="t" id="t12" style="top:348.69px;font-size:41px;color:#fff;-webkit-text-stroke:1.64px currentColor;paint-order:stroke fill;left:2520.90px;transform-origin:0 50%;transform:scaleX(0.9398);">55,20 EUR</span>
<span class="t" id="t13" style="top:348.69px;font-size:41px;color:#fff;-webkit-text-stroke:1.64px currentColor;paint-order:stroke fill;right:271.70px;transform-origin:100% 50%;transform:scaleX(0.9584);">16 344,75 EUR</span>
<span class="t" id="t14" style="top:429.73px;font-size:34.7px;color:#b9b9b9;left:2224.00px;transform-origin:0 50%;transform:scaleX(0.9729);">Tuotto</span>
<span class="t" id="t15" style="top:430.32px;font-size:34px;color:#86cb2d;-webkit-text-stroke:0.8px currentColor;left:2818.00px;transform-origin:0 50%;transform:scaleX(1.0218);">+3,90%</span>
<span class="t" id="t16" style="top:429.82px;font-size:34px;color:#fff;-webkit-text-stroke:1.36px currentColor;paint-order:stroke fill;right:271.60px;transform-origin:100% 50%;transform:scaleX(0.9987);">+613 EUR</span>
<span class="t" id="t17" style="top:616.77px;font-size:50px;color:#fff;font-weight:700;-webkit-text-stroke:1.3px currentColor;left:2223.50px;transform-origin:0 50%;transform:scaleX(0.9360);">Tarjoustasot</span>
<span class="t" id="t18" style="top:625.25px;font-size:30.3px;color:#fff;-webkit-text-stroke:1.21px currentColor;paint-order:stroke fill;left:2862.70px;transform-origin:0 50%;transform:scaleX(0.9696);">Nasdaq Helsinki</span>
<span class="t" id="t19" style="top:709.63px;font-size:34.7px;color:#b9b9b9;left:2221.90px;transform-origin:0 50%;transform:scaleX(0.9500);">Määrä</span>
<span class="t" id="t20" style="top:709.63px;font-size:34.7px;color:#b9b9b9;right:727.50px;transform-origin:100% 50%;transform:scaleX(1.0087);">Osto</span>
<span class="t" id="t21" style="top:709.63px;font-size:34.7px;color:#b9b9b9;left:2678.10px;transform-origin:0 50%;transform:scaleX(1.0292);">Myynti</span>
<span class="t" id="t22" style="top:709.63px;font-size:34.7px;color:#b9b9b9;right:272.40px;transform-origin:100% 50%;transform:scaleX(0.9402);">Määrä</span>
<span class="t" id="t23" style="top:759.73px;font-size:36px;color:#fff;left:2223.00px;transform-origin:0 50%;transform:scaleX(1.0255);">234</span>
<span class="t" id="t24" style="top:759.73px;font-size:36px;color:#fff;-webkit-text-stroke:1.44px currentColor;paint-order:stroke fill;right:728.50px;transform-origin:100% 50%;transform:scaleX(0.9856);">57,25</span>
<span class="t" id="t25" style="top:759.73px;font-size:36px;color:#fff;-webkit-text-stroke:1.44px currentColor;paint-order:stroke fill;left:2680.10px;transform-origin:0 50%;transform:scaleX(0.9856);">57,35</span>
<span class="t" id="t26" style="top:759.73px;font-size:36px;color:#fff;right:271.40px;transform-origin:100% 50%;transform:scaleX(1.0255);">214</span>
<span class="t" id="t27" style="top:840.53px;font-size:36px;color:#fff;left:2223.00px;transform-origin:0 50%;transform:scaleX(1.0255);">641</span>
<span class="t" id="t28" style="top:840.53px;font-size:36px;color:#fff;-webkit-text-stroke:1.44px currentColor;paint-order:stroke fill;right:728.50px;transform-origin:100% 50%;transform:scaleX(0.9856);">57,20</span>
<span class="t" id="t29" style="top:840.53px;font-size:36px;color:#fff;-webkit-text-stroke:1.44px currentColor;paint-order:stroke fill;left:2680.10px;transform-origin:0 50%;transform:scaleX(0.9856);">57,40</span>
<span class="t" id="t30" style="top:840.53px;font-size:36px;color:#fff;right:270.40px;transform-origin:100% 50%;transform:scaleX(1.0255);">239</span>
<span class="t" id="t31" style="top:921.33px;font-size:36px;color:#fff;left:2223.00px;transform-origin:0 50%;transform:scaleX(1.0255);">61</span>
<span class="t" id="t32" style="top:921.33px;font-size:36px;color:#fff;-webkit-text-stroke:1.44px currentColor;paint-order:stroke fill;right:728.50px;transform-origin:100% 50%;transform:scaleX(0.9856);">57,15</span>
<span class="t" id="t33" style="top:921.33px;font-size:36px;color:#fff;-webkit-text-stroke:1.44px currentColor;paint-order:stroke fill;left:2680.10px;transform-origin:0 50%;transform:scaleX(0.9856);">57,45</span>
<span class="t" id="t34" style="top:921.33px;font-size:36px;color:#fff;right:271.40px;transform-origin:100% 50%;transform:scaleX(1.0255);">284</span>
<span class="t" id="t35" style="top:1002.13px;font-size:36px;color:#fff;left:2223.00px;transform-origin:0 50%;transform:scaleX(1.0255);">525</span>
<span class="t" id="t36" style="top:1002.13px;font-size:36px;color:#fff;-webkit-text-stroke:1.44px currentColor;paint-order:stroke fill;right:728.50px;transform-origin:100% 50%;transform:scaleX(0.9856);">57,10</span>
<span class="t" id="t37" style="top:1002.13px;font-size:36px;color:#fff;-webkit-text-stroke:1.44px currentColor;paint-order:stroke fill;left:2680.10px;transform-origin:0 50%;transform:scaleX(0.9856);">57,50</span>
<span class="t" id="t38" style="top:1002.13px;font-size:36px;color:#fff;right:271.40px;transform-origin:100% 50%;transform:scaleX(1.0655);">1 111</span>
<span class="t" id="t39" style="top:1082.93px;font-size:36px;color:#fff;left:2223.00px;transform-origin:0 50%;transform:scaleX(1.0255);">747</span>
<span class="t" id="t40" style="top:1082.93px;font-size:36px;color:#fff;-webkit-text-stroke:1.44px currentColor;paint-order:stroke fill;right:728.50px;transform-origin:100% 50%;transform:scaleX(0.9856);">57,05</span>
<span class="t" id="t41" style="top:1082.93px;font-size:36px;color:#fff;-webkit-text-stroke:1.44px currentColor;paint-order:stroke fill;left:2680.10px;transform-origin:0 50%;transform:scaleX(0.9856);">57,55</span>
<span class="t" id="t42" style="top:1082.93px;font-size:36px;color:#fff;right:270.40px;transform-origin:100% 50%;transform:scaleX(1.0255);">641</span>
<span class="t" id="t43" style="top:1167.63px;font-size:36px;color:#fff;-webkit-text-stroke:1.44px currentColor;paint-order:stroke fill;left:2223.20px;transform-origin:0 50%;transform:scaleX(0.9856);">2 208</span>
<span class="t" id="t44" style="top:1167.63px;font-size:36px;color:#fff;-webkit-text-stroke:1.44px currentColor;paint-order:stroke fill;right:271.40px;transform-origin:100% 50%;transform:scaleX(0.9856);">2 489</span>
<span class="t" id="t45" style="top:1375.77px;font-size:50px;color:#fff;font-weight:700;-webkit-text-stroke:1.3px currentColor;left:2223.70px;transform-origin:0 50%;transform:scaleX(0.9341);">Viimeisimmät kaupat</span>
<span class="t" id="t46" style="top:1385.07px;font-size:33px;color:#7b93fe;-webkit-text-stroke:1.32px currentColor;paint-order:stroke fill;left:2814.10px;transform-origin:0 50%;transform:scaleX(1.0404);">Näytä enemmän</span>
<span class="t" id="t47" style="top:351.46px;font-size:29.7px;color:#cfcfcf;font-family:'DejaVu Sans',sans-serif;right:1285.70px;transform-origin:100% 50%;transform:scaleX(1.0000);">100</span>
<span class="t" id="t48" style="top:568.16px;font-size:29.7px;color:#cfcfcf;font-family:'DejaVu Sans',sans-serif;right:1285.70px;transform-origin:100% 50%;transform:scaleX(1.0000);">80</span>
<span class="t" id="t49" style="top:786.86px;font-size:29.7px;color:#cfcfcf;font-family:'DejaVu Sans',sans-serif;right:1285.70px;transform-origin:100% 50%;transform:scaleX(1.0000);">60</span>
<span class="t" id="t50" style="top:1006.46px;font-size:29.7px;color:#cfcfcf;font-family:'DejaVu Sans',sans-serif;right:1285.70px;transform-origin:100% 50%;transform:scaleX(1.0000);">40</span>
<span class="t" id="t51" style="top:1183.20px;font-size:29.3px;color:#cfcfcf;left:362.30px;transform:translateX(-50%) scaleX(1.0033);">tammi '23</span>
<span class="t" id="t52" style="top:1183.20px;font-size:29.3px;color:#cfcfcf;left:696.90px;transform:translateX(-50%) scaleX(1.0033);">heinä '23</span>
<span class="t" id="t53" style="top:1183.20px;font-size:29.3px;color:#cfcfcf;left:1038.50px;transform:translateX(-50%) scaleX(1.0033);">tammi '24</span>
<span class="t" id="t54" style="top:1183.20px;font-size:29.3px;color:#cfcfcf;left:1375.20px;transform:translateX(-50%) scaleX(1.0033);">heinä '24</span>
<span class="t" id="t55" style="top:1183.20px;font-size:29.3px;color:#cfcfcf;left:1717.00px;transform:translateX(-50%) scaleX(1.0033);">tammi '25</span>
<span class="t" id="t56" style="top:1183.20px;font-size:29.3px;color:#cfcfcf;left:2052.00px;transform:translateX(-50%) scaleX(1.0033);">heinä '25</span>
<span class="t" id="t57" style="top:1264.97px;font-size:33px;color:#c9c9c9;-webkit-text-stroke:1.32px currentColor;paint-order:stroke fill;left:196.70px;transform:translateX(-50%) scaleX(1.0194);">1 pv</span>
<span class="t" id="t58" style="top:1318.11px;font-size:30px;color:#da2a82;-webkit-text-stroke:0.8px currentColor;left:196.30px;transform:translateX(-50%) scaleX(0.9812);">−0,26%</span>
<span class="t" id="t59" style="top:1264.97px;font-size:33px;color:#c9c9c9;-webkit-text-stroke:1.32px currentColor;paint-order:stroke fill;left:398.05px;transform:translateX(-50%) scaleX(1.0198);">1 vk</span>
<span class="t" id="t60" style="top:1318.11px;font-size:30px;color:#da2a82;-webkit-text-stroke:0.8px currentColor;left:398.65px;transform:translateX(-50%) scaleX(0.9892);">−6,53%</span>
<span class="t" id="t61" style="top:1264.97px;font-size:33px;color:#c9c9c9;-webkit-text-stroke:1.32px currentColor;paint-order:stroke fill;left:599.40px;transform:translateX(-50%) scaleX(1.0049);">1 kk</span>
<span class="t" id="t62" style="top:1318.11px;font-size:30px;color:#da2a82;-webkit-text-stroke:0.8px currentColor;left:599.00px;transform:translateX(-50%) scaleX(0.9931);">−6,22%</span>
<span class="t" id="t63" style="top:1264.97px;font-size:33px;color:#c9c9c9;-webkit-text-stroke:1.32px currentColor;paint-order:stroke fill;left:801.75px;transform:translateX(-50%) scaleX(1.0000);">3 kk</span>
<span class="t" id="t64" style="top:1318.11px;font-size:30px;color:#da2a82;-webkit-text-stroke:0.8px currentColor;left:801.35px;transform:translateX(-50%) scaleX(0.9891);">−2,22%</span>
<span class="t" id="t65" style="top:1264.97px;font-size:33px;color:#c9c9c9;-webkit-text-stroke:1.32px currentColor;paint-order:stroke fill;left:1003.10px;transform:translateX(-50%) scaleX(1.0195);">6 kk</span>
<span class="t" id="t66" style="top:1318.11px;font-size:30px;color:#da2a82;-webkit-text-stroke:0.8px currentColor;left:1002.70px;transform:translateX(-50%) scaleX(1.0052);">−27,58%</span>
<span class="t" id="t67" style="top:1264.97px;font-size:33px;color:#c9c9c9;-webkit-text-stroke:1.32px currentColor;paint-order:stroke fill;left:1205.45px;transform:translateX(-50%) scaleX(1.0243);">YTD</span>
<span class="t" id="t68" style="top:1318.11px;font-size:30px;color:#da2a82;-webkit-text-stroke:0.8px currentColor;left:1204.05px;transform:translateX(-50%) scaleX(1.0009);">−14,81%</span>
<span class="t" id="t69" style="top:1264.97px;font-size:33px;color:#c9c9c9;-webkit-text-stroke:1.32px currentColor;paint-order:stroke fill;left:1405.80px;transform:translateX(-50%) scaleX(1.0621);">12 kk</span>
<span class="t" id="t70" style="top:1318.11px;font-size:30px;color:#da2a82;-webkit-text-stroke:0.8px currentColor;left:1405.40px;transform:translateX(-50%) scaleX(1.0009);">−25,70%</span>
<span class="t" id="t71" style="top:1264.97px;font-size:33px;color:#fff;-webkit-text-stroke:1.32px currentColor;paint-order:stroke fill;left:1607.15px;transform:translateX(-50%) scaleX(0.9897);">3 v</span>
<span class="t" id="t72" style="top:1318.11px;font-size:30px;color:#da2a82;-webkit-text-stroke:0.8px currentColor;left:1606.75px;transform:translateX(-50%) scaleX(1.0000);">−4,49%</span>
<span class="t" id="t73" style="top:1264.97px;font-size:33px;color:#c9c9c9;-webkit-text-stroke:1.32px currentColor;paint-order:stroke fill;left:1808.50px;transform:translateX(-50%) scaleX(1.0112);">5 v</span>
<span class="t" id="t74" style="top:1318.11px;font-size:30px;color:#86cb2d;-webkit-text-stroke:0.8px currentColor;left:1809.10px;transform:translateX(-50%) scaleX(1.0090);">+100,88%</span>
<span class="t" id="t75" style="top:1264.97px;font-size:33px;color:#c9c9c9;-webkit-text-stroke:1.32px currentColor;paint-order:stroke fill;left:2009.85px;transform:translateX(-50%) scaleX(1.0503);">Max</span>
<span class="t" id="t76" style="top:1318.11px;font-size:30px;color:#86cb2d;-webkit-text-stroke:0.8px currentColor;left:2009.45px;transform:translateX(-50%) scaleX(1.0051);">+1 289,56%</span>
</div></body></html>
